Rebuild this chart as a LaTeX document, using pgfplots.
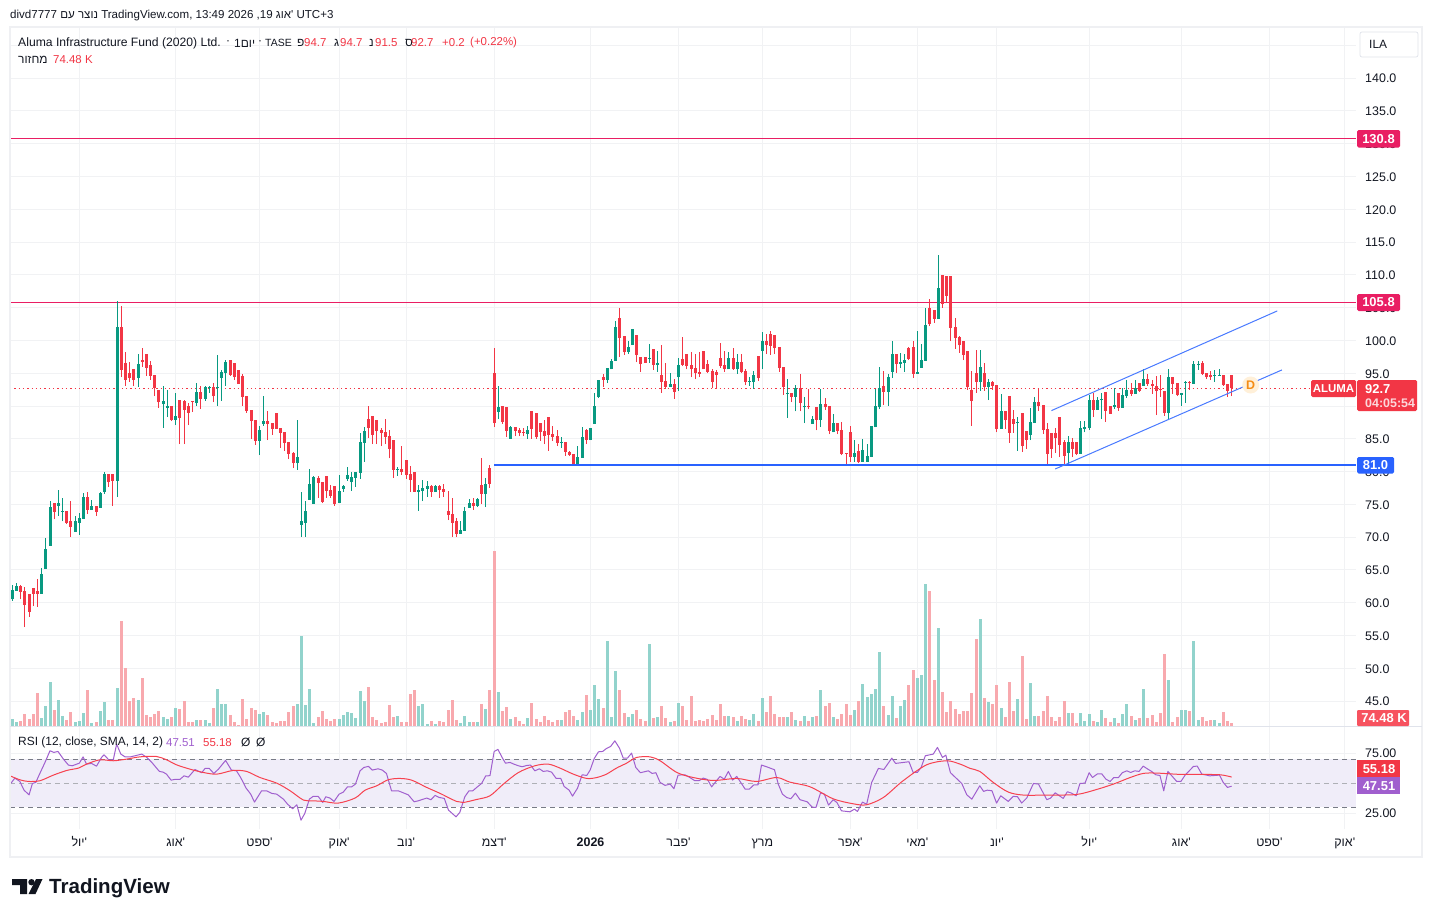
\documentclass[border=0pt]{standalone}
\usepackage{fontspec}
\usepackage{pgfplots}
\usepackage{pgfplotstable}
\pgfplotsset{compat=1.18}
\setmainfont{Liberation Sans}
\newfontfamily\hebfont[Script=Hebrew]{Liberation Sans}
\TeXXeTstate=1
\newcommand{\he}[1]{{\hebfont\beginR #1\endR}}
\newcommand{\hq}[1]{{\hebfont\beginR #1\endR'}}
\definecolor{upc}{HTML}{089981}
\definecolor{dnc}{HTML}{F23645}
\definecolor{upv}{HTML}{92D3CC}
\definecolor{dnv}{HTML}{F8A9AE}
\definecolor{gridc}{HTML}{F1F2F4}
\definecolor{framec}{HTML}{EFF0F3}
\definecolor{txt}{HTML}{131722}
\definecolor{pinkl}{HTML}{E91E63}
\definecolor{bluel}{HTML}{2962FF}
\definecolor{rsic}{HTML}{A05FCE}
\definecolor{sigc}{HTML}{F7414F}
\definecolor{bandc}{HTML}{F0EDF9}
\definecolor{dashc}{HTML}{787B86}
\definecolor{sepc}{HTML}{E0E3EB}
\definecolor{volred}{HTML}{F7525F}
\definecolor{dpale}{HTML}{FFF0D9}
\definecolor{dorg}{HTML}{F58C14}
\pgfplotstableread{
i o h l c v
1 60.5 62.7 60.3 62.0 174
2 61.8 63.0 61.8 62.6 100
8 61.4 65.3 61.4 64.4 199
9 65.2 69.8 65.2 68.2 498
10 68.7 75.5 68.7 74.6 1096
12 74.8 77.2 73.3 75.2 647
13 73.9 76.0 72.4 74.0 249
16 70.8 73.3 70.8 72.4 100
17 72.2 73.7 70.4 73.0 125
18 72.8 76.8 72.8 76.2 324
20 74.2 75.7 74.2 74.8 75
22 74.5 76.9 74.5 76.8 374
23 76.9 80.0 76.6 79.7 598
26 78.6 106.0 76.2 102.1 946
31 94.3 97.9 92.9 96.4 647
37 90.3 93.1 86.7 90.8 224
38 89.7 92.5 88.3 90.0 174
40 87.9 92.0 87.1 88.5 448
45 90.5 93.5 90.0 92.2 149
47 91.1 93.1 90.8 92.9 149
48 92.8 93.1 92.0 92.9 75
50 92.8 97.8 90.0 92.9 921
51 94.3 95.5 90.8 95.2 548
52 95.0 97.0 93.1 96.7 548
60 84.7 87.0 82.5 86.4 299
61 87.3 91.5 87.0 87.7 349
69 81.3 87.9 80.3 82.2 548
70 71.9 76.9 70.1 72.4 2241
71 72.2 75.5 70.1 74.0 523
72 75.7 80.4 75.7 78.1 921
73 75.1 79.4 75.1 79.2 75
79 75.2 79.5 75.2 77.1 174
80 77.4 78.0 76.9 77.8 274
81 78.9 80.7 78.6 79.5 349
82 78.4 80.0 77.1 79.2 324
83 79.1 80.0 77.7 80.0 199
84 79.8 85.9 78.9 84.5 872
85 84.4 86.8 81.5 86.2 623
93 80.3 80.7 79.4 80.4 249
98 76.9 78.0 74.0 77.2 498
99 77.1 78.7 75.5 77.5 548
100 77.4 78.6 76.2 77.8 50
102 76.9 78.0 76.9 77.8 50
108 70.5 72.4 70.5 71.1 75
109 71.0 74.6 71.0 74.0 249
110 74.5 75.8 74.5 75.2 100
112 74.8 76.0 74.6 75.8 100
114 76.6 79.1 74.6 78.1 423
117 89.1 93.1 88.0 89.9 847
120 85.0 87.0 85.0 86.8 174
124 85.8 87.0 85.0 86.4 199
132 84.4 85.3 83.6 84.5 149
136 81.0 83.9 81.0 82.2 149
137 82.1 86.8 82.1 85.3 349
139 84.8 86.7 84.8 86.7 398
140 87.3 92.0 87.3 90.0 1021
141 91.4 94.0 91.2 94.0 672
143 94.0 95.8 93.5 95.8 2117
144 95.6 97.2 95.6 96.9 224
145 96.9 103.0 96.9 102.0 1370
148 98.2 99.9 97.9 99.0 224
149 99.3 101.7 99.3 101.7 299
153 97.2 99.5 96.6 97.3 2042
155 96.3 98.4 95.2 96.6 224
158 92.9 95.0 92.9 93.4 100
160 94.4 97.3 92.3 96.3 573
172 95.6 98.2 95.6 97.3 249
174 95.6 97.9 94.9 96.7 125
177 93.7 94.4 93.1 93.8 149
178 93.7 95.3 92.6 94.7 299
180 98.4 101.3 95.6 99.9 697
186 91.8 94.1 88.2 92.0 224
188 91.4 93.2 89.2 92.7 149
190 89.8 91.4 87.4 90.0 249
192 87.3 88.5 87.3 88.0 224
194 87.9 92.6 86.8 90.3 896
197 86.0 88.8 86.0 87.4 224
202 82.2 84.8 81.5 82.9 398
204 81.5 85.0 81.5 83.3 1046
205 81.5 84.2 81.5 82.4 722
206 82.2 87.0 82.2 87.0 797
207 86.8 92.6 86.8 90.0 921
208 89.8 95.9 89.5 92.7 1843
210 92.2 94.9 90.0 94.4 274
211 95.2 99.9 94.3 97.9 747
213 96.4 98.1 95.8 96.7 498
214 96.6 97.9 95.2 97.0 647
217 94.9 101.5 94.9 95.2 1195
218 95.8 99.5 95.8 97.0 1270
219 96.9 105.0 96.9 102.4 3536
222 103.3 113.0 103.3 108.0 2440
232 93.7 98.6 92.3 96.0 2664
234 92.9 94.1 90.9 93.7 598
237 86.5 91.9 86.5 89.3 448
241 87.4 88.3 83.2 87.6 672
244 85.6 89.7 84.8 87.6 1071
245 87.4 91.4 87.4 90.6 249
253 82.9 85.5 81.2 84.5 324
256 82.7 87.7 82.7 86.7 324
257 86.5 87.7 86.0 86.8 125
258 86.7 91.7 86.4 90.9 299
260 89.4 91.4 89.4 90.9 100
261 90.9 92.0 88.0 91.1 398
264 89.9 92.8 89.6 90.2 199
266 89.7 92.8 89.7 91.7 299
267 91.5 94.0 91.2 92.5 548
269 91.9 94.0 91.9 92.8 149
271 93.1 95.7 93.1 94.1 921
277 89.0 95.7 87.9 94.4 1145
280 91.7 92.0 90.0 92.0 398
281 93.5 93.8 90.5 93.7 398
283 93.4 96.9 93.4 96.4 2117
284 96.3 96.9 95.5 96.4 149
288 94.6 95.5 93.7 94.7 149
289 94.6 95.7 94.6 94.7 75
}\upT
\pgfplotstableread{
i o h l c v
3 62.6 62.7 60.5 61.7 125
4 61.8 62.4 56.3 59.7 299
5 61.4 61.4 57.9 58.6 174
6 62.3 62.3 59.5 61.4 299
7 61.8 63.7 59.4 61.4 822
11 75.2 75.2 72.7 73.9 398
14 74.0 74.0 72.0 72.2 149
15 72.4 75.5 70.1 71.6 349
19 76.2 76.9 73.6 74.2 896
21 74.8 74.8 73.3 73.9 100
24 79.7 79.7 77.7 78.4 149
25 79.7 79.7 74.8 78.6 149
27 102.1 105.3 94.4 95.5 2615
28 96.6 98.2 93.1 94.0 1444
29 95.0 96.7 93.7 94.3 623
30 95.7 95.7 93.1 94.0 697
32 97.0 98.9 96.0 96.7 1195
33 97.9 97.9 94.6 95.8 274
34 96.3 96.9 94.0 94.6 224
35 94.7 94.7 91.5 92.8 299
36 92.5 92.5 89.7 90.6 374
39 90.0 90.0 87.7 87.9 224
41 90.9 90.9 84.2 88.2 423
42 90.8 90.9 84.2 89.4 623
43 90.0 90.5 87.1 89.0 100
44 90.8 90.8 89.1 90.6 100
46 92.2 93.1 89.6 91.1 149
49 92.9 93.5 90.6 91.5 448
53 97.0 97.0 94.6 94.7 274
54 96.6 96.6 94.0 94.4 100
55 95.5 95.5 93.4 93.4 25
56 94.6 94.9 90.0 91.4 672
57 91.5 91.5 89.0 89.3 174
58 89.4 89.4 85.0 87.7 448
59 87.9 87.9 84.1 84.7 398
62 87.7 89.3 84.8 87.3 274
63 87.4 87.4 85.6 86.5 100
64 89.0 89.0 86.5 86.5 75
65 86.7 86.7 83.6 85.9 125
66 86.1 86.1 83.2 84.4 125
67 84.5 84.5 81.9 82.7 349
68 82.9 83.0 80.6 81.3 498
74 79.1 79.4 76.0 78.3 224
75 78.4 78.4 75.2 75.4 374
76 79.4 79.4 76.0 77.1 174
77 77.2 78.0 76.0 76.3 125
78 77.8 77.8 74.8 75.1 174
86 88.0 90.0 85.1 86.7 971
87 88.5 88.5 84.2 85.6 224
88 87.9 87.9 84.2 86.2 149
89 86.4 86.7 83.9 85.9 75
90 86.1 88.0 84.2 85.3 100
91 85.4 86.4 82.0 83.5 523
92 84.8 84.8 79.1 80.3 224
94 80.4 83.9 79.5 80.0 100
95 81.8 81.8 78.9 79.5 100
96 79.7 80.9 76.9 78.7 797
97 80.0 80.0 76.9 76.9 896
101 77.8 78.0 76.2 76.9 125
103 77.8 78.0 76.0 77.2 125
104 77.4 78.1 76.2 76.9 100
105 74.0 77.1 72.6 73.4 398
106 73.6 76.0 70.1 72.2 647
107 72.4 73.0 70.1 70.5 149
111 75.2 76.0 74.2 74.8 100
113 78.0 82.0 75.1 76.6 548
115 80.6 81.0 77.5 78.1 896
116 95.0 98.9 86.8 87.4 4358
118 90.0 90.0 87.3 87.6 374
119 89.9 89.9 85.3 86.2 473
121 86.8 86.8 85.4 86.2 224
122 86.4 86.7 85.4 85.9 125
123 86.1 86.7 85.4 85.9 50
125 89.3 89.3 85.0 86.5 573
126 89.0 89.0 85.0 85.3 174
127 87.4 87.4 84.7 86.1 100
128 86.2 87.9 84.2 85.4 249
129 88.3 88.3 83.2 85.6 149
130 85.8 87.0 84.7 85.3 100
131 85.4 86.4 83.9 84.4 149
133 84.5 84.5 82.4 83.0 349
134 83.0 83.2 82.4 82.6 398
135 82.7 82.7 81.0 81.0 249
138 86.4 86.5 84.2 84.8 772
142 94.4 94.9 92.9 94.0 448
146 103.4 105.0 97.5 100.4 896
147 100.7 100.7 97.8 98.2 324
150 100.8 100.8 96.7 97.8 398
151 97.5 97.5 95.2 96.4 174
152 97.5 97.5 96.6 96.6 125
154 98.7 98.7 95.5 96.3 199
156 94.7 99.3 92.0 93.7 498
157 93.8 96.6 92.6 92.9 199
159 93.4 94.1 91.1 92.1 125
161 97.2 100.5 96.1 96.3 498
162 97.9 97.9 95.6 96.1 149
163 96.3 98.2 94.4 95.6 747
164 95.8 97.9 94.1 95.0 125
165 95.2 98.2 94.4 94.9 149
166 98.4 98.4 95.6 95.6 125
167 96.4 97.0 95.0 95.2 174
168 95.3 95.6 92.7 93.7 274
169 95.2 95.5 92.6 94.7 149
170 97.3 99.6 95.8 96.1 548
171 96.3 98.4 95.2 95.6 249
173 97.3 98.8 95.5 95.6 224
175 96.7 97.9 95.0 95.2 249
176 95.3 95.6 93.2 93.7 174
179 97.6 97.6 93.8 94.3 125
181 99.9 101.0 97.9 99.3 349
182 101.0 101.4 97.8 99.2 747
183 100.8 100.8 97.9 98.8 299
184 99.0 99.0 95.2 95.8 224
185 95.9 95.9 91.7 92.9 224
187 92.0 92.0 90.6 91.4 349
189 92.7 94.9 89.2 90.5 125
191 90.0 92.6 89.5 89.8 125
193 89.8 89.8 86.3 87.9 249
195 90.3 91.2 89.4 89.8 498
196 90.0 90.0 85.7 86.2 573
198 87.4 87.4 85.7 86.2 174
199 86.4 87.6 82.5 82.7 299
200 82.9 82.9 81.0 82.7 548
201 86.0 87.0 81.5 82.2 274
203 83.2 84.2 81.3 81.5 623
209 93.1 95.4 90.2 92.2 498
212 97.9 97.9 95.0 96.4 199
215 98.9 99.0 97.0 97.2 1021
216 99.0 99.9 94.3 94.9 1394
220 105.0 106.3 102.2 102.5 3362
221 104.7 104.7 102.7 103.3 1145
223 110.0 110.0 105.0 105.6 847
224 109.8 109.8 105.7 106.8 349
225 109.8 109.8 99.9 101.9 623
226 102.1 103.4 98.7 100.4 423
227 100.5 100.7 98.1 99.3 299
228 99.9 99.9 97.0 97.8 374
229 98.4 98.4 92.5 92.9 374
230 92.5 95.4 87.0 90.8 822
231 95.0 98.6 92.0 93.7 2166
233 95.0 96.6 92.3 92.9 697
235 93.7 93.8 92.5 93.1 548
236 93.2 93.2 86.0 86.5 1021
238 89.3 89.3 86.5 87.9 224
239 91.5 91.5 84.4 85.9 1096
240 88.0 89.4 85.9 87.3 374
242 89.0 89.0 83.0 83.9 1743
243 86.2 86.2 83.5 84.8 174
246 90.6 92.8 89.3 90.0 249
247 90.2 90.2 85.8 86.4 374
248 86.5 87.4 81.0 82.7 747
249 85.9 85.9 82.1 83.5 224
250 85.9 86.7 82.9 85.1 125
251 88.3 88.3 82.2 84.1 224
252 84.5 84.8 81.0 82.4 623
254 84.5 85.1 82.2 83.5 324
255 84.5 84.5 82.5 82.7 75
259 90.9 92.0 88.3 89.4 125
262 92.2 92.2 87.6 89.3 199
263 90.0 90.0 88.8 88.8 100
265 92.0 92.0 89.3 89.7 75
268 92.5 93.5 91.5 91.9 249
270 93.5 93.5 92.2 92.3 199
272 94.1 94.9 93.1 93.4 199
273 93.4 94.0 91.9 93.1 274
274 93.1 94.6 88.6 92.3 100
275 92.6 94.7 91.4 92.5 324
276 92.3 92.3 88.5 89.0 1793
278 94.4 94.4 91.9 93.4 100
279 93.5 93.5 91.5 91.7 224
282 93.7 93.8 92.5 93.5 374
285 96.6 96.9 94.7 94.9 224
286 95.0 95.0 94.1 94.4 125
287 94.7 95.4 94.0 94.4 149
290 94.7 94.7 93.1 93.2 349
291 93.4 93.4 91.4 92.3 125
292 94.7 94.7 91.5 92.7 74.48
}\dnT
\pgfplotstableread{
i rsi
0.7 50.1
1.6 54.3
2.8 51.5
3.8 44.2
5.0 40.3
5.8 49.8
6.6 50.7
7.8 59.9
8.8 67.4
10.0 77.2
10.9 75.8
11.9 76.6
13.2 70.2
14.4 65.2
15.3 64.6
17.0 66.8
17.9 72.1
18.7 66.0
19.9 66.6
21.1 64.3
22.3 71.6
22.9 73.8
24.1 69.3
25.1 69.6
25.9 82.7
26.9 74.4
27.9 72.1
29.2 72.1
30.3 73.0
31.9 74.4
33.1 71.6
34.3 67.4
36.1 59.9
37.0 59.3
37.8 57.6
38.9 52.6
39.8 53.2
41.0 53.2
42.0 56.2
43.0 55.1
44.6 61.5
46.2 58.8
47.0 62.4
48.0 62.4
49.1 58.2
50.2 61.8
51.9 69.1
53.3 61.0
54.5 60.4
55.5 54.8
56.8 45.9
57.9 40.9
58.8 34.2
60.5 43.7
61.7 43.7
62.9 41.5
64.1 40.9
65.7 36.7
66.7 32.5
67.9 28.6
68.9 32.0
69.9 19.1
70.8 24.7
71.9 36.7
72.8 39.0
74.0 39.0
75.1 33.9
75.8 38.7
76.8 37.6
77.8 34.8
79.0 40.9
80.0 42.6
81.0 47.0
82.0 47.0
82.9 49.3
84.0 60.4
84.9 63.2
86.0 64.1
86.9 61.0
88.3 62.1
89.3 61.0
90.3 58.2
91.5 43.7
93.1 43.7
95.5 40.3
96.9 34.5
97.9 35.3
99.9 37.6
100.9 36.2
101.9 39.8
102.9 38.1
104.1 37.3
105.1 27.5
106.9 21.9
107.8 25.6
109.0 38.7
110.0 43.7
110.9 43.7
112.0 47.0
113.0 49.8
114.0 56.2
115.0 56.3
116.0 76.6
116.9 78.3
117.9 71.6
118.7 66.8
119.8 67.4
120.7 66.0
121.8 64.6
122.7 63.8
123.8 64.9
124.7 65.2
125.7 60.4
126.8 62.1
127.7 59.9
128.7 60.4
129.7 59.3
130.8 54.0
131.9 54.0
132.7 47.3
133.9 44.2
134.7 39.2
135.9 45.9
137.0 57.1
138.1 56.5
138.9 61.0
139.9 70.8
140.9 76.3
141.9 76.6
142.8 79.1
143.8 80.8
144.8 85.5
145.9 79.4
146.8 71.0
147.8 71.0
148.8 75.2
149.8 63.2
150.9 58.8
152.8 60.4
153.7 58.2
154.6 58.8
155.6 50.7
156.8 48.2
158.0 49.3
158.9 45.4
159.9 56.8
161.5 57.1
162.7 54.8
163.9 52.1
164.9 52.1
165.9 54.3
166.9 53.2
167.9 47.0
169.9 55.7
170.9 53.4
171.9 59.9
172.9 52.6
173.9 55.7
175.9 45.1
176.9 45.1
178.0 48.7
179.0 48.7
179.8 65.2
181.0 63.8
182.9 61.3
183.8 49.3
184.8 40.9
185.8 38.1
186.8 37.0
187.9 41.7
189.0 36.2
190.7 34.5
191.9 30.0
192.8 29.7
193.9 42.0
194.8 40.9
195.8 31.7
196.9 36.2
197.8 33.9
198.9 26.9
200.9 26.1
202.0 28.3
202.7 26.4
203.9 34.2
204.9 32.5
206.1 50.7
207.7 62.4
209.0 61.5
210.9 71.0
211.8 66.6
215.0 68.0
216.0 59.0
217.0 59.0
217.9 63.2
218.9 73.0
220.8 74.4
221.8 80.0
223.0 71.6
223.8 73.5
224.9 58.8
227.6 49.8
228.8 40.3
230.0 36.7
231.9 47.9
232.8 43.2
233.7 44.2
234.8 43.7
235.9 33.4
236.9 39.5
238.7 34.8
239.9 39.0
240.9 38.7
241.9 33.4
243.1 37.6
244.7 49.8
245.9 49.3
247.9 36.2
248.8 37.6
249.9 42.0
251.8 37.3
252.8 42.9
253.8 41.7
254.9 39.5
255.8 49.8
257.0 50.1
258.0 58.8
258.8 54.8
260.0 57.9
261.0 57.9
262.0 53.4
263.0 51.5
263.9 54.8
265.0 54.8
265.9 58.8
267.0 60.4
267.9 59.0
268.9 60.4
269.9 59.9
270.9 64.3
272.0 61.8
272.9 59.9
273.9 57.1
274.9 56.5
275.8 43.7
276.8 59.9
278.9 51.5
279.9 51.5
280.9 56.8
282.9 64.1
283.8 64.3
284.9 57.6
286.8 56.2
289.1 56.8
290.0 50.7
291.0 46.5
292.0 47.51
}\rsiT
\pgfplotstableread{
i sig
0.6 56.0
2.8 52.9
4.8 51.5
7.6 52.1
10.8 56.8
14.0 60.7
16.8 62.7
18.7 66.0
21.9 69.6
25.1 68.8
28.3 70.2
31.5 72.1
35.4 72.4
37.8 69.6
40.2 65.4
43.4 61.8
46.6 59.0
49.8 57.6
53.7 60.7
56.9 59.9
60.1 54.8
64.1 50.1
67.3 43.7
70.5 35.9
72.8 35.3
75.2 34.8
78.8 33.4
82.8 37.6
85.2 44.2
88.0 47.9
90.7 52.9
93.5 54.0
96.3 52.6
99.9 46.5
103.1 41.5
107.0 34.8
108.6 33.9
111.8 36.4
115.0 39.5
118.2 49.3
121.8 59.0
125.7 64.6
128.9 66.0
131.7 62.7
134.9 57.6
138.1 54.0
140.5 54.8
142.8 57.6
145.2 62.7
147.6 66.8
150.0 71.6
153.2 72.1
155.6 68.8
159.6 59.0
163.5 54.8
168.3 52.3
173.9 54.0
178.6 51.5
183.4 54.8
186.6 50.9
191.4 47.0
196.9 37.0
201.7 32.8
204.9 32.0
208.9 38.1
213.6 52.1
219.2 65.4
224.0 68.8
227.2 66.0
229.6 62.4
231.9 59.9
235.1 50.7
238.7 42.6
242.3 40.1
247.9 40.1
255.0 40.6
259.8 44.8
263.8 49.3
267.8 54.8
270.9 58.2
274.1 58.5
279.7 57.4
283.7 57.4
289.2 57.1
292.0 55.18
}\sigT
\pgfplotsset{
  base/.style={
    scale only axis, width=1346bp,
    xmin=0.451, xmax=321.69,
    xtick={17,40,60,79,95,116,139,160,180,201,217,236,258,280,301,319},
    major tick length=0pt, tick style={draw=none},
    axis line style={draw=none},
    grid=major, grid style={gridc, line width=1bp},
  },
  over/.style={
    scale only axis, width=1346bp, hide axis,
    xmin=0.451, xmax=321.69,
  },
  candle/.style 2 args={draw=none, no markers, forget plot,
    error bars/.cd, y dir=plus, y explicit, error mark=none,
    error bar style={draw=#1, line width=#2, solid}},
}
\begin{document}
\begin{tikzpicture}
\path[use as bounding box, fill=white] (0,0) rectangle (1432bp,-917bp);
% price grid and scale
\begin{axis}[base, anchor=south west, at={(10bp,-726bp)}, height=699bp,
  ymin=41.21, ymax=147.79,
  ytick={45,50,55,60,65,70,75,80,85,90,95,100,105,110,115,120,125,130,135,140,145},
  yticklabels={45.0,50.0,55.0,60.0,65.0,70.0,75.0,80.0,85.0,90.0,95.0,100.0,105.0,110.0,115.0,120.0,125.0,130.0,135.0,140.0,},
  yticklabel pos=right,
  yticklabel style={anchor=west, inner sep=0pt, xshift=9bp, yshift=-0.5bp, text=txt, font=\fontsize{12.5}{14}\selectfont},
  xticklabels={},
]
\end{axis}
% volume
\begin{axis}[over, anchor=south west, at={(10bp,-726bp)}, height=699bp, ymin=0, ymax=17405]
\addplot[ycomb, upv, line width=3bp] table[x=i,y=v] {\upT};
\addplot[ycomb, dnv, line width=3bp] table[x=i,y=v] {\dnT};
\end{axis}
% candles
\begin{axis}[over, anchor=south west, at={(10bp,-726bp)}, height=699bp, ymin=41.21, ymax=147.79]
\addplot[pinkl, line width=1bp] coordinates {(0.451,130.8)(321.69,130.8)};
\addplot[pinkl, line width=1bp] coordinates {(0.451,105.8)(321.69,105.8)};
\addplot[dnc, line width=1bp, dash pattern=on 1.3bp off 3bp] coordinates {(0.451,92.7)(311,92.7)};
\addplot[candle={upc}{1bp}] table[x=i,y=l,y error plus expr=\thisrow{h}-\thisrow{l}] {\upT};
\addplot[candle={dnc}{1bp}] table[x=i,y=l,y error plus expr=\thisrow{h}-\thisrow{l}] {\dnT};
\addplot[candle={upc}{3bp}] table[x=i,y=o,y error plus expr=\thisrow{c}-\thisrow{o}] {\upT};
\addplot[candle={dnc}{3bp}] table[x=i,y=c,y error plus expr=\thisrow{o}-\thisrow{c}] {\dnT};
\addplot[bluel, line width=2bp] coordinates {(116,81)(321.69,81)};
\addplot[bluel!85!white, line width=1bp] coordinates {(249.0,89.3)(302.9,104.5)};
\addplot[bluel!85!white, line width=1bp] coordinates {(249.9,80.4)(304.0,95.5)};
\end{axis}
% RSI
\begin{axis}[base, anchor=south west, at={(10bp,-829bp)}, height=102bp,
  ymin=11.7, ymax=97.05,
  ytick={25,75}, yticklabels={25.00,75.00},
  yticklabel pos=right,
  yticklabel style={anchor=west, inner sep=0pt, xshift=9bp, yshift=0bp, text=txt, font=\fontsize{12.5}{14}\selectfont},
  xticklabels={\hq{יול},\hq{אוג},\hq{ספט},\hq{אוק},\hq{נוב},\hq{דצמ},\textbf{2026},\hq{פבר},\he{מרץ},\hq{אפר},\hq{מאי},\hq{יונ},\hq{יול},\hq{אוג},\hq{ספט},\hq{אוק}},
  xticklabel style={anchor=center, inner sep=0pt, yshift=-14bp, text height=9bp, text depth=3bp, text=txt, font=\fontsize{12.5}{14}\selectfont},
]
\addplot[fill=bandc, draw=none] coordinates {(0.451,30)(321.69,30)(321.69,70)(0.451,70)} -- cycle;
\addplot[dashc, line width=1bp, dash pattern=on 5bp off 4bp] coordinates {(0.451,70)(321.69,70)};
\addplot[dashc!60!white, line width=1bp, dash pattern=on 5bp off 4bp] coordinates {(0.451,50)(321.69,50)};
\addplot[dashc, line width=1bp, dash pattern=on 5bp off 4bp] coordinates {(0.451,30)(321.69,30)};
\addplot[rsic, line width=1bp, line join=round] table[x=i,y=rsi] {\rsiT};
\addplot[sigc, line width=1bp, line join=round, smooth] table[x=i,y=sig] {\sigT};
\end{axis}
\begin{scope}[x=1bp,y=-1bp]
\draw[framec, line width=2bp] (10,27) rectangle (1422,857);
\draw[sepc, line width=1bp] (10,726.5) -- (1422,726.5);
% header text
\tikzset{t/.style={anchor=west, inner sep=0pt, text=txt, font=\fontsize{12}{14}\selectfont},
  r/.style={anchor=west, inner sep=0pt, text=dnc, font=\fontsize{11.5}{14}\selectfont}}
\node[t, font=\fontsize{11.6}{14}\selectfont] at (10,16) {divd7777 \he{נוצר עם} TradingView.com, 13:49 2026 ,19 \hq{אוג} UTC+3};
\node[t, font=\fontsize{12.2}{14}\selectfont] at (18,43) {Aluma Infrastructure Fund (2020) Ltd.};
\node[t] at (226,43) {·};
\node[t] at (234,43) {1\he{יום}};
\node[t] at (258,43) {·};
\node[t, font=\fontsize{10.5}{14}\selectfont] at (265,43) {TASE};
\node[t] at (297,43) {\he{פ}};\node[r] at (304,43) {94.7};
\node[t] at (334,43) {\he{ג}};\node[r] at (340,43) {94.7};
\node[t] at (369,43) {\he{נ}};\node[r] at (375,43) {91.5};
\node[t] at (405,43) {\he{ס}};\node[r] at (411,43) {92.7};
\node[r] at (442,43) {+0.2};
\node[r] at (470,43) {(+0.22\%)};
\node[t] at (18,59.5) {\he{מחזור}};
\node[r] at (53,59.5) {74.48 K};
% RSI legend
\node[t] at (18,742.5) {RSI (12, close, SMA, 14, 2)};
\node[anchor=west,inner sep=0pt,text=rsic,font=\fontsize{11.5}{14}\selectfont] at (166,742.5) {47.51};
\node[r] at (203,742.5) {55.18};
\node[t] at (241,742.5) {Ø};
\node[t] at (256,742.5) {Ø};
% right labels
\fill[pinkl, rounded corners=1.5bp] (1357,130) rectangle (1400,147.5);
\node[text=white,font=\fontsize{13}{15}\selectfont\bfseries] at (1378.5,138.8) {130.8};
\fill[pinkl, rounded corners=1.5bp] (1357,294) rectangle (1400,311);
\node[text=white,font=\fontsize{13}{15}\selectfont\bfseries] at (1378.5,302.5) {105.8};
\fill[bluel, rounded corners=1.5bp] (1357,457) rectangle (1394,473.5);
\node[text=white,font=\fontsize{13}{15}\selectfont\bfseries] at (1375.5,465.2) {81.0};
\fill[dnc, rounded corners=1.5bp] (1311,380) rectangle (1356,397);
\node[text=white,font=\fontsize{11.5}{14}\selectfont\bfseries] at (1333.5,388.7) {ALUMA};
\fill[dnc, rounded corners=1.5bp] (1357,380) rectangle (1417,411);
\node[anchor=west,inner sep=0pt,text=white,font=\fontsize{13}{15}\selectfont\bfseries] at (1365,388.7) {92.7};
\node[anchor=west,inner sep=0pt,text=white!80!dnc,font=\fontsize{12.5}{15}\selectfont\bfseries] at (1365,403) {04:05:54};
\fill[volred, rounded corners=1bp] (1357,710) rectangle (1409,726);
\node[text=white,font=\fontsize{13}{15}\selectfont\bfseries] at (1384,718) {74.48 K};
\fill[dnc] (1357,760) rectangle (1400,777);
\node[text=white,font=\fontsize{13}{15}\selectfont\bfseries] at (1379,768.7) {55.18};
\fill[rsic] (1357,777) rectangle (1400,794);
\node[text=white,font=\fontsize{13}{15}\selectfont\bfseries] at (1379,785.7) {47.51};
% ILA box
\draw[sepc, line width=0.7bp, rounded corners=2bp] (1360,32) rectangle (1418,57);
\node[t] at (1369,44.5) {ILA};
% dividend marker
\fill[dpale] (1250.7,385) circle (8.5);
\node[text=dorg,font=\fontsize{12.5}{14}\selectfont\bfseries] at (1250.7,385) {D};
% logo
\fill[txt!90!black] (12,879) -- (27,879) -- (27,894) -- (20,894) -- (20,885) -- (12,885) -- cycle;
\fill[txt!90!black] (31.5,882.2) circle (3.2);
\fill[txt!90!black] (36,879) -- (42.5,879) -- (35.5,894) -- (28.5,894) -- cycle;
\node[anchor=west,inner sep=0pt,text=txt!90!black,font=\fontsize{20.6}{24}\selectfont\bfseries] at (49,888) {TradingView};
\end{scope}
\end{tikzpicture}
\end{document}
